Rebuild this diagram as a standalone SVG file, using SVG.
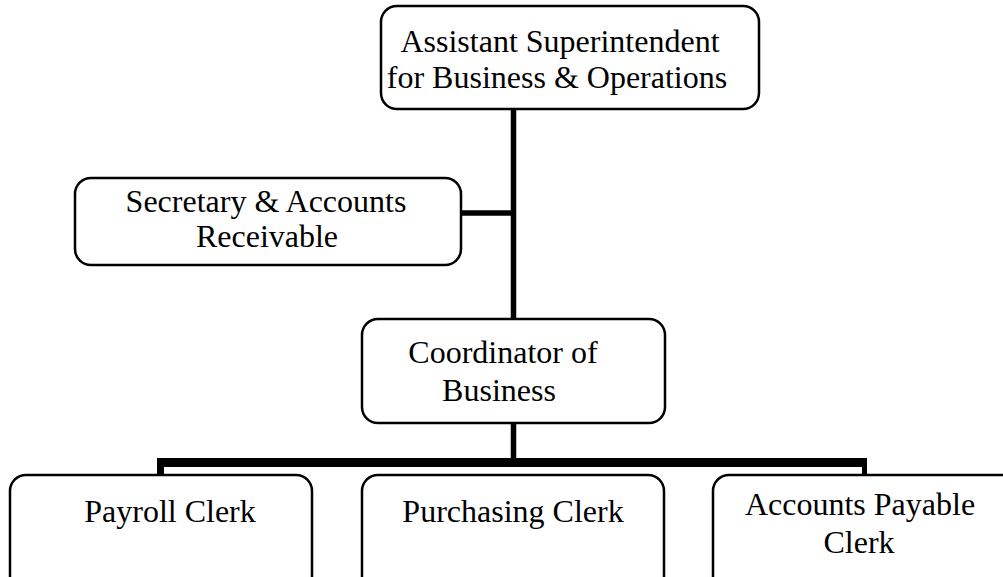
<svg xmlns="http://www.w3.org/2000/svg" width="1003" height="577" viewBox="0 0 1003 577">
  <style>
    .box { fill: #ffffff; stroke: #000000; stroke-width: 2.5; }
    .lbl { font-family: "Liberation Serif", "Times New Roman", serif; font-size: 32px; fill: #000000; text-anchor: middle; }
    .wire { stroke: #000000; stroke-width: 5.5; fill: none; }
    .bar { fill: #000000; stroke: none; }
  </style>
  <rect width="1003" height="577" fill="#ffffff"/>

  <!-- connectors -->
  <g id="connectors">
    <line class="wire" x1="513.5" y1="108" x2="513.5" y2="320"/>
    <line class="wire" x1="460" y1="213" x2="513.5" y2="213"/>
    <line class="wire" x1="513.5" y1="423" x2="513.5" y2="462"/>
    <!-- horizontal branch bar with end legs -->
    <path class="bar" d="M157,458 H867 V476 H862 V467 H164 V476 H157 Z"/>
  </g>

  <g id="node-asst-supt">
    <rect class="box" x="381" y="6" width="378" height="103" rx="16"/>
    <text class="lbl" x="560" y="52">Assistant Superintendent</text>
    <text class="lbl" x="557" y="88">for Business &amp; Operations</text>
  </g>

  <g id="node-secretary">
    <rect class="box" x="75" y="178" width="386" height="87" rx="16"/>
    <text class="lbl" x="266" y="212">Secretary &amp; Accounts</text>
    <text class="lbl" x="267" y="247">Receivable</text>
  </g>

  <g id="node-coordinator">
    <rect class="box" x="362" y="319" width="303" height="104" rx="16"/>
    <text class="lbl" x="503" y="363">Coordinator of</text>
    <text class="lbl" x="499" y="401">Business</text>
  </g>

  <g id="node-payroll">
    <rect class="box" x="10" y="475" width="302" height="118" rx="16"/>
    <text class="lbl" x="170" y="522">Payroll Clerk</text>
  </g>

  <g id="node-purchasing">
    <rect class="box" x="362" y="475" width="302" height="118" rx="16"/>
    <text class="lbl" x="513" y="522">Purchasing Clerk</text>
  </g>

  <g id="node-accounts-payable">
    <rect class="box" x="713" y="475" width="304" height="118" rx="16"/>
    <text class="lbl" x="860" y="515">Accounts Payable</text>
    <text class="lbl" x="859" y="553">Clerk</text>
  </g>
</svg>
